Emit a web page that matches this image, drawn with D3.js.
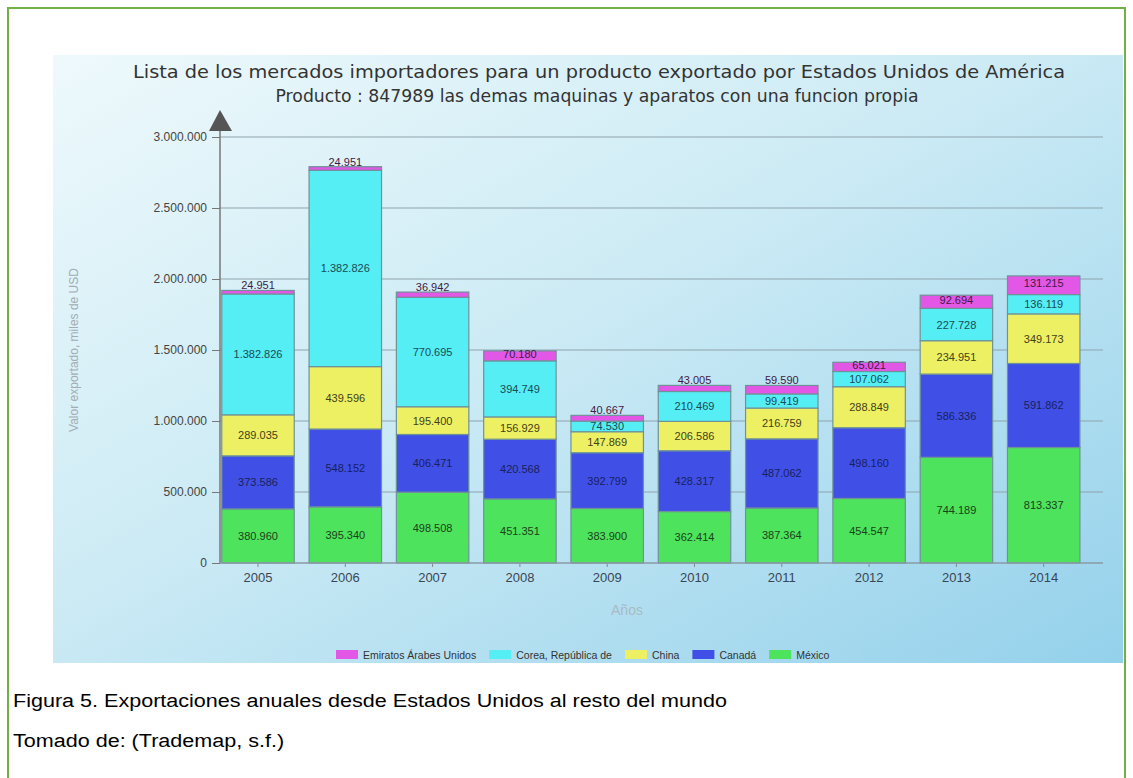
<!DOCTYPE html>
<html><head><meta charset="utf-8">
<script src="https://cdn.jsdelivr.net/npm/d3@7"></script>
<style>body{margin:0;background:#fff;} svg{display:block}</style>
</head><body>
<svg id="c" width="1133" height="778"></svg>
<script>
// ---- data ----
const years = ["2005","2006","2007","2008","2009","2010","2011","2012","2013","2014"];
const seriesNames = ["México","Canadá","China","Corea, República de","Emiratos Árabes Unidos"];
const mexico   = [380960, 395340, 498508, 451351, 383900, 362414, 387364, 454547, 744189, 813337];
const canada   = [373586, 548152, 406471, 420568, 392799, 428317, 487062, 498160, 586336, 591862];
const china    = [289035, 439596, 195400, 156929, 147869, 206586, 216759, 288849, 234951, 349173];
const corea    = [851000, 1382826, 770695, 394749, 74530, 210469, 99419, 107062, 227728, 136119];
const emiratos = [24951, 24951, 36942, 70180, 40667, 43005, 59590, 65021, 92694, 131215];
// the 2005 Korea segment carries a printed label that differs from its drawn height
const printedLabelOverrides = [["2005", "Corea, República de", "1.382.826"]];
const yTicks = [0, 500000, 1000000, 1500000, 2000000, 2500000, 3000000];
const legendOrder = ["Emiratos Árabes Unidos","Corea, República de","China","Canadá","México"];

const titleLines = ["Lista de los mercados importadores para un producto exportado por Estados Unidos de América",
                    "Producto : 847989 las demas maquinas y aparatos con una funcion propia"];
const yTitle = "Valor exportado, miles de USD";
const xTitle = "Años";
const captionLines = ["Figura 5. Exportaciones anuales desde Estados Unidos al resto del mundo",
                      "Tomado de: (Trademap, s.f.)"];

// ---- build table ----
const valuesBySeries = {"México": mexico, "Canadá": canada, "China": china,
  "Corea, República de": corea, "Emiratos Árabes Unidos": emiratos};
const table = years.map((yr, i) => {
  const row = {year: yr};
  seriesNames.forEach(s => row[s] = valuesBySeries[s][i]);
  return row;
});

const colors = {"México":"#4ee35c","Canadá":"#4050e6","China":"#eef064",
  "Corea, República de":"#55eef4","Emiratos Árabes Unidos":"#e257e6"};
const labelColors = {"México":"#1a421a","Canadá":"#18215e","China":"#434116",
  "Corea, República de":"#1a4c56","Emiratos Árabes Unidos":"#421a44"};

const fmtLocale = d3.formatLocale({decimal:",", thousands:".", grouping:[3], currency:["",""]});
const fmt = fmtLocale.format(",d");

const svg = d3.select("#c");
const defs = svg.append("defs");
const grad = defs.append("linearGradient").attr("id","bg")
  .attr("x1","0").attr("y1","0").attr("x2","1").attr("y2","1");
grad.append("stop").attr("offset","0").attr("stop-color","#eef9fc");
grad.append("stop").attr("offset","0.45").attr("stop-color","#cdebf5");
grad.append("stop").attr("offset","1").attr("stop-color","#94d1eb");

// page border
svg.append("rect").attr("x",8).attr("y",8).attr("width",1117).attr("height",790)
  .attr("fill","#fff").attr("stroke","#72b043").attr("stroke-width",2);

// chart panel
svg.append("rect").attr("x",53).attr("y",55).attr("width",1070).attr("height",608)
  .attr("fill","url(#bg)");

// title
const titleG = svg.append("g").attr("font-family","'DejaVu Sans', sans-serif")
  .attr("font-size",17).attr("fill","#333").attr("text-anchor","middle");
titleG.append("text").attr("x",599).attr("y",78).attr("textLength",932)
  .attr("lengthAdjust","spacingAndGlyphs").text(titleLines[0]);
titleG.append("text").attr("x",597).attr("y",102).attr("textLength",643)
  .attr("lengthAdjust","spacingAndGlyphs").text(titleLines[1]);

// scales
const y = d3.scaleLinear().domain([0, 3000000]).range([563, 137]);
const x = d3.scaleBand().domain(years).range([214.35, 1087.35]).paddingInner(0.17).paddingOuter(0.085);
const plotLeft = 220, plotRight = 1103;

// gridlines
svg.append("g").selectAll("line").data(yTicks.filter(d => d > 0)).join("line")
  .attr("x1", plotLeft).attr("x2", plotRight)
  .attr("y1", d => y(d)).attr("y2", d => y(d))
  .attr("stroke","#8fa3ad").attr("stroke-width",1);

// stacked bars
const stacked = d3.stack().keys(seriesNames)(table);
const barG = svg.append("g");
stacked.forEach(layer => {
  barG.append("g").selectAll("rect").data(layer).join("rect")
    .attr("x", d => x(d.data.year))
    .attr("width", x.bandwidth())
    .attr("y", d => y(d[1]))
    .attr("height", d => y(d[0]) - y(d[1]))
    .attr("fill", colors[layer.key])
    .attr("stroke","#6f9298").attr("stroke-width",1.2);
});

// segment labels
const lblG = svg.append("g").attr("font-family","'Liberation Sans', Arial, sans-serif")
  .attr("font-size",11).attr("text-anchor","middle");
stacked.forEach(layer => {
  lblG.append("g").selectAll("text").data(layer).join("text")
    .attr("x", d => x(d.data.year) + x.bandwidth()/2)
    .attr("y", d => {
      const top = y(d[1]), h = y(d[0]) - y(d[1]);
      let cy;
      if (layer.key === "Emiratos Árabes Unidos") cy = h >= 8.5 ? top + h/2 - 2 : top - 5;
      else cy = top + h/2;
      return cy + 4;
    })
    .attr("fill", labelColors[layer.key])
    .text(d => {
      const o = printedLabelOverrides.find(r => r[0] === d.data.year && r[1] === layer.key);
      return o ? o[2] : fmt(d[1] - d[0]);
    });
});

// y axis
const yAxisG = svg.append("g").attr("transform", `translate(${plotLeft},0)`)
  .call(d3.axisLeft(y).tickValues(yTicks).tickFormat(fmt).tickSize(8).tickPadding(5));
yAxisG.select(".domain").remove();
yAxisG.selectAll(".tick line").attr("stroke","#777");
yAxisG.selectAll(".tick text").attr("font-family","'Liberation Sans', Arial, sans-serif")
  .attr("font-size",12).attr("fill","#444");
svg.append("line").attr("x1",plotLeft).attr("x2",plotLeft).attr("y1",y(0)).attr("y2",128)
  .attr("stroke","#777").attr("stroke-width",1.5);
svg.append("path").attr("d","M209,131L232,131L220,110Z").attr("fill","#555");

// x axis
const xAxisG = svg.append("g").attr("transform", `translate(0,${y(0)})`)
  .call(d3.axisBottom(x).tickSize(4).tickPadding(6));
xAxisG.select(".domain").remove();
xAxisG.selectAll(".tick line").attr("stroke","#888");
xAxisG.selectAll(".tick text").attr("font-family","'Liberation Sans', Arial, sans-serif")
  .attr("font-size",13).attr("fill","#3a4654");
svg.append("line").attr("x1",plotLeft).attr("x2",plotRight).attr("y1",y(0)).attr("y2",y(0))
  .attr("stroke","#8a9aa4").attr("stroke-width",1.5);

// axis titles
svg.append("text").attr("transform","translate(78,350) rotate(-90)")
  .attr("text-anchor","middle").attr("font-family","'Liberation Sans', Arial, sans-serif")
  .attr("font-size",12).attr("fill","#a3acb3").text(yTitle);
svg.append("text").attr("x",627).attr("y",615).attr("text-anchor","middle")
  .attr("font-family","'Liberation Sans', Arial, sans-serif")
  .attr("font-size",14).attr("fill","#a9bac4").text(xTitle);

// legend
const legG = svg.append("g").attr("font-family","'Liberation Sans', Arial, sans-serif")
  .attr("font-size",10.5).attr("fill","#333");
let lx = 336;
legendOrder.forEach(name => {
  legG.append("rect").attr("x", lx).attr("y", 650).attr("width", 22).attr("height", 9)
    .attr("fill", colors[name]);
  const t = legG.append("text").attr("x", lx + 27).attr("y", 658.5).text(name);
  lx += 27 + t.node().getComputedTextLength() + 13;
});

// caption
const capG = svg.append("g").attr("font-family","'Liberation Sans', Arial, sans-serif")
  .attr("font-size",18).attr("fill","#000");
const c1 = capG.append("text").attr("x",13).attr("y",707).text(captionLines[0]);
const c2 = capG.append("text").attr("x",13).attr("y",747).text(captionLines[1]);
const k = 714 / c1.node().getComputedTextLength();
c1.attr("textLength", 714).attr("lengthAdjust","spacingAndGlyphs");
c2.attr("textLength", c2.node().getComputedTextLength() * k).attr("lengthAdjust","spacingAndGlyphs");
</script>
</body></html>
